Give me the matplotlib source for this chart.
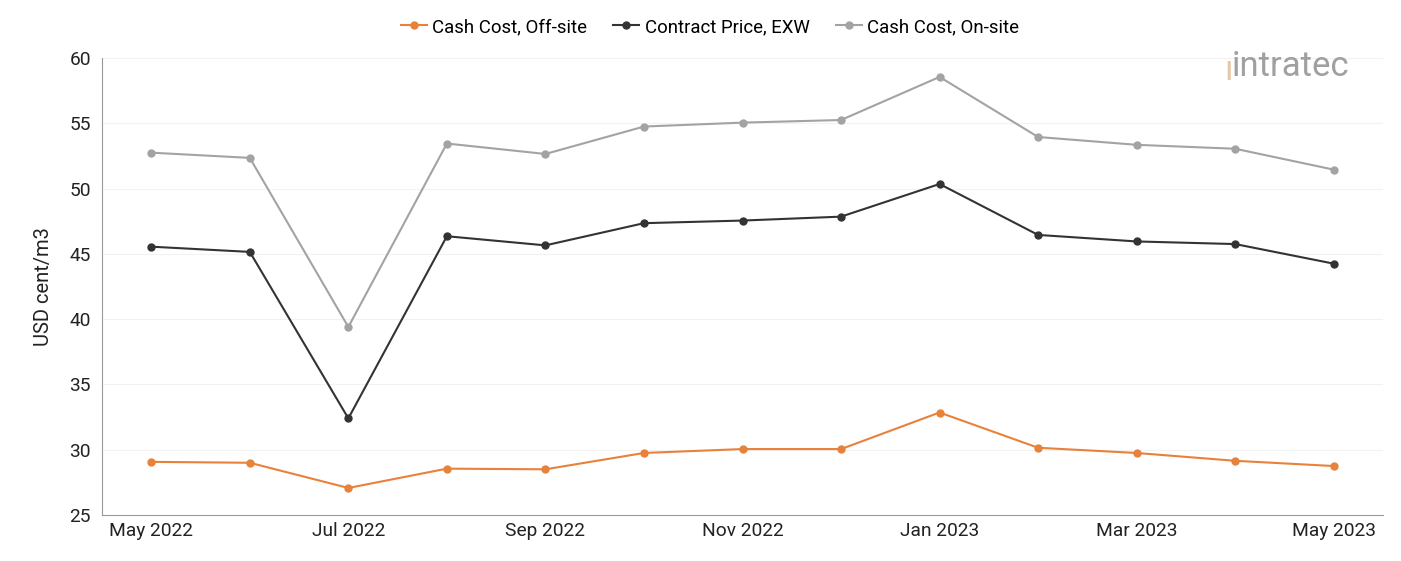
import matplotlib.pyplot as plt

plt.rcParams['font.family'] = ['Roboto', 'DejaVu Sans']

months = ['May 2022', 'Jun 2022', 'Jul 2022', 'Aug 2022', 'Sep 2022', 'Oct 2022', 'Nov 2022',
          'Dec 2022', 'Jan 2023', 'Feb 2023', 'Mar 2023', 'Apr 2023', 'May 2023']
off_site = [29.07, 29.0, 27.07, 28.55, 28.5, 29.75, 30.05, 30.05, 32.85, 30.15, 29.75, 29.15, 28.75]
contract = [45.55, 45.15, 32.4, 46.35, 45.65, 47.35, 47.55, 47.85, 50.35, 46.45, 45.95, 45.75, 44.25]
on_site = [52.75, 52.35, 39.4, 53.45, 52.65, 54.75, 55.05, 55.25, 58.55, 53.95, 53.35, 53.05, 51.45]

fig = plt.figure(figsize=(14.01, 5.61), dpi=100)
ax = fig.add_axes([102 / 1401, 46 / 561, (1383 - 102) / 1401, (515 - 58) / 561])

x = list(range(len(months)))
ax.plot(x, off_site, color='#E8823A', marker='o', ms=5, lw=1.5, label='Cash Cost, Off-site')
ax.plot(x, contract, color='#333333', marker='o', ms=5, lw=1.5, label='Contract Price, EXW')
ax.plot(x, on_site, color='#A3A3A3', marker='o', ms=5, lw=1.5, label='Cash Cost, On-site')

ax.set_xlim(-0.5, len(months) - 0.5)
ax.set_ylim(25, 60)
ax.set_yticks(range(25, 61, 5))
ax.set_xticks(x[::2])
ax.set_xticklabels(months[::2])
ax.tick_params(axis='both', length=0, labelsize=13.8, colors='#222222')
ax.tick_params(axis='x', pad=5)
ax.tick_params(axis='y', pad=8)
ax.grid(axis='y', color='#f2f2f2', lw=0.8)
ax.set_axisbelow(True)
for s in ['top', 'right']:
    ax.spines[s].set_visible(False)
for s in ['left', 'bottom']:
    ax.spines[s].set_color('#999999')
ax.set_ylabel('USD cent/m3', fontsize=14.5, labelpad=12, color='#222222')

ax.legend(loc='center', bbox_to_anchor=((710 - 102) / 1281, 1 + 31 / 457), ncol=3, frameon=False,
          fontsize=13.4, handlelength=1.4, columnspacing=1.4, handletextpad=0.3)

# logo
fig.text(1232 / 1401, 1 - 66 / 561, 'intratec', fontsize=25, color='#a0a0a0', ha='left', va='center')
fig.text(1224 / 1401, 1 - 70 / 561, 'ı', fontsize=25, color='#e8c7a8', ha='left', va='center')

fig.savefig('out.png', dpi=100)
